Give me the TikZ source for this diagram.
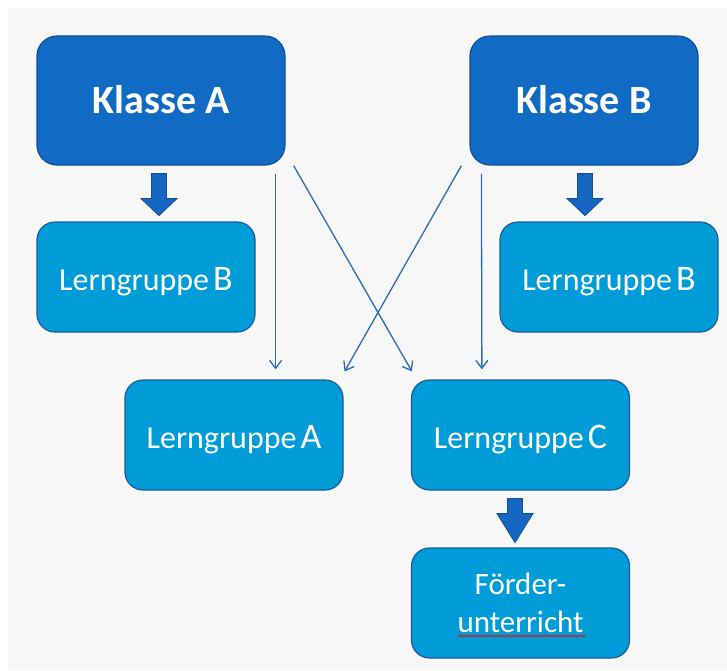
\documentclass[tikz,border=0pt]{standalone}
\usepackage{fontspec}
\setmainfont{Carlito}
\usetikzlibrary{calc,arrows.meta,decorations.pathmorphing}
\definecolor{bgcol}{HTML}{F7F7F7}
\definecolor{darkfill}{HTML}{116BC4}
\definecolor{darkedge}{HTML}{0E4F94}
\definecolor{lightfill}{HTML}{009CD8}
\definecolor{lightedge}{HTML}{1E5A96}
\definecolor{linecol}{HTML}{2C6DB5}
\definecolor{arrfill}{HTML}{1667C2}
\definecolor{arredge}{HTML}{12509A}
\newcommand\blockarr[3]{%
  \draw[bigarrow] ($#1+(-7.5,0)$) -- ++(0,#2) -- ++(-10.5,0) -- ++(18,#3)
    -- ++(18,-#3) -- ++(-10.5,0) -- ++(0,-#2) -- cycle;}
\newcommand\bigletter[1]{{\fontsize{36}{42}\selectfont #1}}
\begin{document}
\begin{tikzpicture}[x=1pt,y=-1pt,
  klasse/.style={rectangle, rounded corners=20pt, fill=darkfill, draw=darkedge,
    line width=1.2pt, minimum width=#1, minimum height=129pt, text=white,
    font=\fontsize{40}{48}\selectfont\bfseries, inner sep=0pt,
    text height=25pt, text depth=0pt},
  gruppe/.style={rectangle, rounded corners=18pt, fill=lightfill, draw=lightedge,
    line width=1.2pt, minimum width=218pt, minimum height=110pt, text=white,
    font=\fontsize{32}{38}\selectfont, inner sep=0pt,
    text height=26pt, text depth=0pt},
  foerder/.style={rectangle, rounded corners=18pt, fill=lightfill, draw=lightedge,
    line width=1.2pt, minimum width=218pt, minimum height=110pt, text=white,
    font=\fontsize{31}{38}\selectfont, inner sep=0pt, align=center, text depth=0pt},
  thinarrow/.style={draw=linecol, line width=1.3pt, -{Straight Barb[length=8pt,width=12pt]}},
  bigarrow/.style={fill=arrfill, draw=arredge, line width=0.8pt, line join=miter},
  squiggle/.style={draw=red, line width=0.7pt, decorate,
    decoration={snake, amplitude=0.8pt, segment length=3pt}}
]
\useasboundingbox (0,0) rectangle (727,670);
\fill[white] (0,0) rectangle (727,670);
\fill[bgcol] (8,8) rectangle (727,670);

\node[klasse=248pt] (ka) at (161,100.5) {Klasse A};
\node[klasse=228pt] (kb) at (584,100.5) {Klasse B};
\node[gruppe] (lbl) at (146,277) {Lerngruppe\hspace{4pt}\bigletter{B}};
\node[gruppe] (lbr) at (609,277) {Lerngruppe\hspace{4pt}\bigletter{B}};
\node[gruppe] (la) at (234,435) {Lerngruppe\hspace{4pt}\bigletter{A}};
\node[gruppe] (lc) at (520.5,435) {Lerngruppe\hspace{4pt}\bigletter{C}};
\node[foerder] (fu) at (520.5,603) {Förder-\\unterricht};
\draw[squiggle] ($(fu.center)+(-63,33)$) -- ++(128,0);

% thick block arrows
\blockarr{(ka.south)+(-2,8)}{25}{17}
\blockarr{(kb.south)+(1,8)}{25}{17}
\blockarr{(lc.south)+(-5.5,8)}{15}{29}

% thin arrows
\draw[thinarrow] ($(ka.south east)+(-10,8)$) -- ($(la.north east)+(-68,-10)$);
\draw[thinarrow] ($(ka.south east)+(8,0)$) -- ($(lc.north west)+(1,-8)$);
\draw[thinarrow] ($(kb.south west)+(-8,0)$) -- ($(la.north east)+(1,-8)$);
\draw[thinarrow] ($(kb.south west)+(12,8)$) -- ($(lc.north west)+(71,-10)$);
\end{tikzpicture}
\end{document}
